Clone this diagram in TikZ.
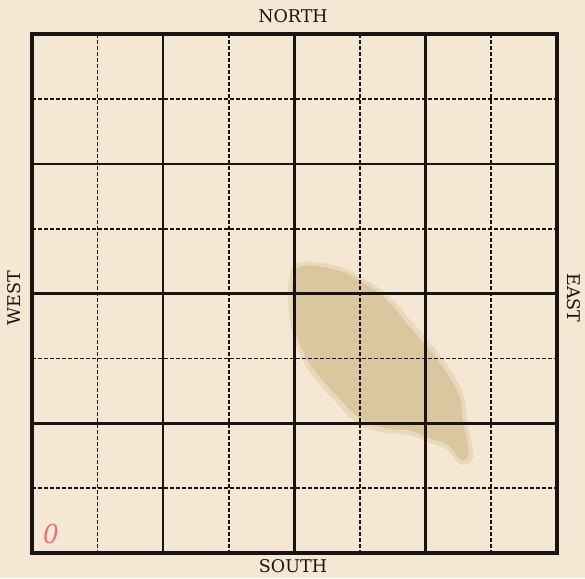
\documentclass[tikz,border=0pt]{standalone}
\usepackage{fontspec}
\setmainfont{DejaVu Serif}
\begin{document}
\begin{tikzpicture}[x=1pt,y=-1pt,
  ink/.style={draw=inkc},
  border/.style={ink,line width=3.2pt,line join=miter},
  solidline/.style={ink,line width=2.3pt},
  dashline/.style={ink,line width=1.7pt,dash pattern=on 4.2pt off 1.8pt},
  label/.style={font=\fontsize{17.5}{17.5}\selectfont,text=inkc,inner sep=0pt}]
\definecolor{paper}{RGB}{244,231,212}
\definecolor{inkc}{RGB}{25,20,16}
\definecolor{stain}{RGB}{216,196,155}
\definecolor{pinkred}{RGB}{240,105,125}
\useasboundingbox (0,0) rectangle (585,578);
\fill[paper] (0,0) rectangle (585,578);
% stain (soft edge + core)
\fill[stain,opacity=0.4] plot[smooth cycle,tension=0.7] coordinates {
 (299,262) (337,266) (364,279) (389,296) (412,322) (435,349) (452,373)
 (464,397) (467,420) (472,445) (472,460) (460,464) (446,449) (427,442)
 (410,435) (380,432) (356,422) (335,401) (311,374) (298,350) (291,327)
 (288,297) (290,275)};
\fill[stain,opacity=0.85] plot[smooth cycle,tension=0.7] coordinates {
 (302,266) (337,270) (362,282) (386,299) (408,325) (431,352) (448,375)
 (460,398) (463,421) (468,446) (468,457) (460,459) (448,445) (428,438)
 (411,431) (381,427) (358,417) (339,398) (315,371) (302,349) (295,327)
 (292,297) (294,278)};
% dashed lines
\foreach \i in {1,3,5,7}{
  \draw[dashline] ({32+65.6*\i},34) -- ({32+65.6*\i},553);
  \draw[dashline] (32,{34+64.9*\i}) -- (557,{34+64.9*\i});
}
% solid lines
\foreach \i in {2,4,6}{
  \draw[solidline] ({32+65.6*\i},34) -- ({32+65.6*\i},553);
  \draw[solidline] (32,{34+64.9*\i}) -- (557,{34+64.9*\i});
}
\draw[border] (32,34) rectangle (557,553);
% labels
\node[label] (north) at (293,16) {NORTH};
\node[label] (south) at (293,566.5) {SOUTH};
\node[label,rotate=90] (west) at (14,298) {WEST};
\node[label,rotate=-90] (east) at (574,298) {EAST};
\node[text=pinkred,font=\fontsize{26}{26}\selectfont\itshape,inner sep=0pt,xscale=0.95] (zero) at (51,534) {0};
\end{tikzpicture}
\end{document}
